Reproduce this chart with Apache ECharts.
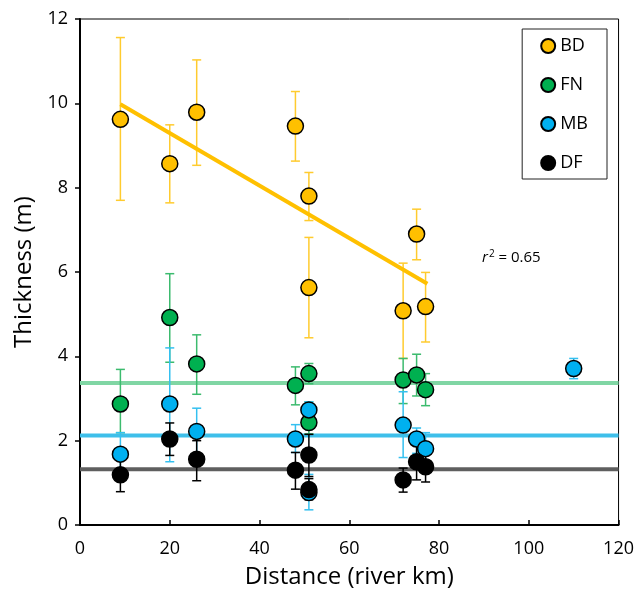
<!DOCTYPE html>
<html>
<head>
<meta charset="utf-8">
<script src="https://cdn.jsdelivr.net/npm/echarts@6/dist/echarts.min.js"></script>
<style>
  html, body { margin: 0; padding: 0; background: #fff; }
  #chart { width: 637px; height: 596px; }
</style>
</head>
<body>
<div id="chart"></div>
<script>
// distance along river (km), mean thickness (m), lower / upper error bar ends
const bdDist = [9, 20, 26, 48, 51, 51, 72, 75, 77]
const bdMean = [9.62, 8.57, 9.79, 9.46, 7.80, 5.63, 5.08, 6.90, 5.18]
const bdLow = [7.70, 7.64, 8.53, 8.63, 7.22, 4.44, 3.95, 6.29, 4.34]
const bdHigh = [11.56, 9.49, 11.03, 10.28, 8.36, 6.82, 6.21, 7.49, 5.99]

const fnDist = [9, 20, 26, 48, 51, 51, 72, 75, 77]
const fnMean = [2.87, 4.92, 3.82, 3.31, 3.59, 2.43, 3.44, 3.56, 3.21]
const fnLow = [2.19, 3.86, 3.10, 2.85, 3.35, 2.16, 2.88, 3.06, 2.83]
const fnHigh = [3.69, 5.96, 4.51, 3.75, 3.83, 2.92, 3.95, 4.05, 3.59]

const mbDist = [9, 20, 26, 48, 51, 51, 72, 75, 77, 110]
const mbMean = [1.68, 2.87, 2.22, 2.04, 2.73, 0.77, 2.37, 2.04, 1.81, 3.71]
const mbLow = [1.17, 1.50, 1.70, 1.72, 2.50, 0.36, 1.60, 1.70, 1.50, 3.47]
const mbHigh = [2.19, 4.20, 2.77, 2.38, 2.92, 1.20, 3.16, 2.30, 2.19, 3.95]

const dfDist = [9, 20, 26, 48, 51, 51, 72, 75, 77]
const dfMean = [1.19, 2.04, 1.56, 1.30, 1.66, 0.84, 1.07, 1.50, 1.38]
const dfLow = [0.79, 1.65, 1.05, 0.85, 1.15, 0.60, 0.78, 1.07, 1.02]
const dfHigh = [1.60, 2.42, 2.00, 1.72, 2.15, 1.10, 1.35, 1.90, 1.70]

// overall means per group
const fnAvg = 3.37
const mbAvg = 2.12
const dfAvg = 1.32

// BD regression line end points
const trendX = [9, 77.4]
const trendY = [9.98, 5.72]

const xTicks = [0, 20, 40, 60, 80, 100, 120]
const yTicks = [0, 2, 4, 6, 8, 10, 12]

const font = 'Open Sans'

function errorBars(name, dist, low, high, color) {
  return {
    name: name,
    type: 'custom',
    silent: true,
    z: 3,
    encode: { x: 0, y: [1, 2] },
    data: dist.map((d, i) => [d, low[i], high[i]]),
    renderItem(params, api) {
      const top = api.coord([api.value(0), api.value(2)])
      const bot = api.coord([api.value(0), api.value(1)])
      const w = 4.5
      const st = { stroke: color, lineWidth: 1.5 }
      return {
        type: 'group',
        children: [
          { type: 'line', shape: { x1: top[0], y1: top[1], x2: bot[0], y2: bot[1] }, style: st },
          { type: 'line', shape: { x1: top[0] - w, y1: top[1], x2: top[0] + w, y2: top[1] }, style: st },
          { type: 'line', shape: { x1: bot[0] - w, y1: bot[1], x2: bot[0] + w, y2: bot[1] }, style: st }
        ]
      }
    }
  }
}

function dots(name, dist, mean, color) {
  return {
    name: name,
    type: 'scatter',
    z: 5,
    symbol: 'circle',
    symbolSize: 16,
    itemStyle: { color: color, borderColor: '#000', borderWidth: 1.5, opacity: 1 },
    data: dist.map((d, i) => [d, mean[i]])
  }
}

function avgLine(value, color) {
  return {
    type: 'line',
    silent: true,
    z: 2,
    symbol: 'none',
    lineStyle: { color: color, width: 4 },
    data: [[xTicks[0], value], [xTicks[xTicks.length - 1], value]]
  }
}

const chart = echarts.init(document.getElementById('chart'))
chart.setOption({
  animation: false,
  grid: {
    left: 80, right: 17, top: 19, bottom: 71,
    show: true, borderColor: '#000', borderWidth: 1
  },
  legend: {
    orient: 'vertical',
    right: 30,
    top: 29,
    padding: [8, 19, 7, 18],
    itemWidth: 14,
    itemHeight: 14,
    itemGap: 21,
    borderColor: '#222',
    borderWidth: 1,
    data: ['BD', 'FN', 'MB', 'DF'],
    textStyle: { fontFamily: font, fontSize: 18, color: '#000' }
  },
  xAxis: {
    type: 'value',
    min: 0,
    max: 120,
    interval: 20,
    name: 'Distance (river km)',
    nameLocation: 'middle',
    nameGap: 40,
    nameTextStyle: { fontFamily: font, fontSize: 24, color: '#000' },
    splitLine: { show: false },
    axisLine: { lineStyle: { color: '#000', width: 2 } },
    axisTick: { inside: true, length: 5, lineStyle: { color: '#000', width: 1.5 } },
    axisLabel: {
      fontFamily: font, fontSize: 18, color: '#000', margin: 15,
      formatter: v => xTicks.includes(v) ? String(v) : ''
    }
  },
  yAxis: {
    type: 'value',
    min: 0,
    max: 12,
    interval: 2,
    name: 'Thickness (m)',
    nameLocation: 'middle',
    nameGap: 38,
    nameTextStyle: { fontFamily: font, fontSize: 24, color: '#000' },
    splitLine: { show: false },
    axisLine: { show: true, lineStyle: { color: '#000', width: 2 } },
    axisTick: { show: true, length: 5, lineStyle: { color: '#000', width: 1.5 } },
    axisLabel: {
      fontFamily: font, fontSize: 18, color: '#000', margin: 12,
      formatter: v => yTicks.includes(v) ? String(v) : ''
    }
  },
  graphic: [{
    type: 'text',
    left: 482,
    top: 249,
    style: {
      text: '{i|r}{s|2} = 0.65',
      fontFamily: font,
      fontSize: 15,
      fill: '#000',
      rich: {
        i: { fontFamily: font, fontSize: 15, fontStyle: 'italic' },
        s: { fontFamily: font, fontSize: 10, verticalAlign: 'top', padding: [0, 0, 7, 1] }
      }
    }
  }],
  series: [
    avgLine(fnAvg, '#80D6A4'),
    avgLine(mbAvg, '#3EBFEA'),
    avgLine(dfAvg, '#5F5F5F'),
    {
      type: 'line',
      silent: true,
      z: 4,
      symbol: 'none',
      lineStyle: { color: '#FFC000', width: 4 },
      data: trendX.map((x, i) => [x, trendY[i]])
    },
    errorBars('BD err', bdDist, bdLow, bdHigh, '#FFCB2E'),
    errorBars('FN err', fnDist, fnLow, fnHigh, '#3CBB6E'),
    errorBars('MB err', mbDist, mbLow, mbHigh, '#34C0F0'),
    errorBars('DF err', dfDist, dfLow, dfHigh, '#000'),
    dots('BD', bdDist, bdMean, '#FFC000'),
    dots('FN', fnDist, fnMean, '#00B050'),
    dots('MB', mbDist, mbMean, '#00B0F0'),
    dots('DF', dfDist, dfMean, '#000000')
  ]
})
</script>
</body>
</html>
